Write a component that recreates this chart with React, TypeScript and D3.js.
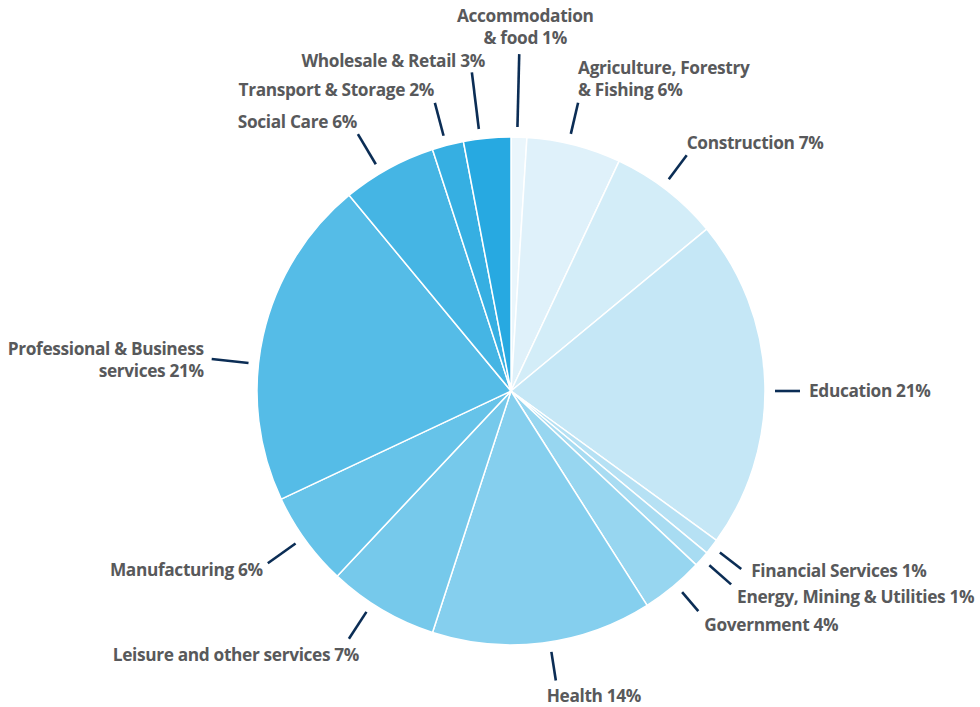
import { useEffect, useRef } from "react"
import * as d3 from "d3"

// sectors, clockwise from 12 o'clock
const sectors = [
  "Accommodation & food",
  "Agriculture, Forestry & Fishing",
  "Construction",
  "Education",
  "Financial Services",
  "Energy, Mining & Utilities",
  "Government",
  "Health",
  "Leisure and other services",
  "Manufacturing",
  "Professional & Business services",
  "Social Care",
  "Transport & Storage",
  "Wholesale & Retail",
]
const shares = [1, 6, 7, 21, 1, 1, 4, 14, 7, 6, 21, 6, 2, 3]
const labelLines = [
  ["Accommodation", "& food 1%"],
  ["Agriculture, Forestry", "& Fishing 6%"],
  ["Construction 7%"],
  ["Education 21%"],
  ["Financial Services 1%"],
  ["Energy, Mining & Utilities 1%"],
  ["Government 4%"],
  ["Health 14%"],
  ["Leisure and other services 7%"],
  ["Manufacturing 6%"],
  ["Professional & Business", "services 21%"],
  ["Social Care 6%"],
  ["Transport & Storage 2%"],
  ["Wholesale & Retail 3%"],
]
const colors = [
  "#eaf6fc", "#dff1fa", "#d3edf8", "#c5e7f6", "#b6e1f4", "#a8dcf2", "#97d6f0",
  "#85cfee", "#76c9eb", "#66c3e9", "#55bce7", "#45b5e4", "#36afe2", "#27a9e1",
]

// label placement: leader angle (deg), leader length beyond the gap, text anchor and offset from leader end
const layout = [
  { ang: 1.4, len: 73, anchor: "middle", dx: 6, dy: -32 },
  { ang: 13.1, len: 32, anchor: "start", dx: 0, dy: -29 },
  { ang: 36.7, len: 30, anchor: "start", dx: 0, dy: -6 },
  { ang: 90, len: 25, anchor: "start", dx: 9, dy: 6 },
  { ang: 127.7, len: 27, anchor: "start", dx: 10, dy: 8 },
  { ang: 131.3, len: 29, anchor: "start", dx: 6, dy: 19 },
  { ang: 139.6, len: 25, anchor: "start", dx: 6, dy: 20 },
  { ang: 171.2, len: 29, anchor: "middle", dx: 38, dy: 21 },
  { ang: 213.2, len: 32, anchor: "middle", dx: -113, dy: 22 },
  { ang: 234.7, len: 34, anchor: "end", dx: -5, dy: 13 },
  { ang: 276.1, len: 37, anchor: "end", dx: -8, dy: -4 },
  { ang: 329.2, len: 35, anchor: "end", dx: -1, dy: -6 },
  { ang: 345.2, len: 34, anchor: "end", dx: -1, dy: -7 },
  { ang: 353, len: 57, anchor: "end", dx: 13, dy: -5 },
]

export default function App() {
  const svgRef = useRef<SVGSVGElement>(null)

  useEffect(() => {
    if (!svgRef.current) return
    const svg = d3.select(svgRef.current)
    svg.selectAll("*").remove()

    const cx = 511
    const cy = 391
    const r = 254

    const pie = d3.pie<number>().sort(null).value((d) => d)
    const arcs = pie(shares)
    const arc = d3.arc<d3.PieArcDatum<number>>().innerRadius(0).outerRadius(r)

    const g = svg.append("g").attr("transform", `translate(${cx},${cy})`)

    g.selectAll("path")
      .data(arcs)
      .enter()
      .append("path")
      .attr("d", arc)
      .attr("fill", (_, i) => colors[i])
      .attr("stroke", "#fff")
      .attr("stroke-width", 1.5)
      .attr("stroke-linejoin", "round")

    arcs.forEach((a, i) => {
      const L = layout[i]
      const ang = (L.ang * Math.PI) / 180
      const r0 = r + 10
      const r1 = r0 + L.len
      const x1 = Math.sin(ang) * r1
      const y1 = -Math.cos(ang) * r1

      g.append("line")
        .attr("x1", Math.sin(ang) * r0)
        .attr("y1", -Math.cos(ang) * r0)
        .attr("x2", x1)
        .attr("y2", y1)
        .attr("stroke", "#0b2d55")
        .attr("stroke-width", 2.6)

      const t = g
        .append("text")
        .attr("x", x1 + L.dx)
        .attr("y", y1 + L.dy)
        .attr("text-anchor", L.anchor)
        .attr("font-family", "'Open Sans', sans-serif")
        .attr("font-weight", 700)
        .attr("font-size", 17.3)
        .attr("letter-spacing", -0.35)
        .attr("fill", "#58595b")
      labelLines[i].forEach((line, j) => {
        t.append("tspan")
          .attr("x", x1 + L.dx)
          .attr("dy", j === 0 ? 0 : 22)
          .text(line)
      })
      t.append("title").text(`${sectors[i]} ${shares[i]}%`)
    })
  }, [])

  return (
    <svg
      ref={svgRef}
      width={980}
      height={707}
      style={{ display: "block", position: "absolute", left: 0, top: 0 }}
    />
  )
}
